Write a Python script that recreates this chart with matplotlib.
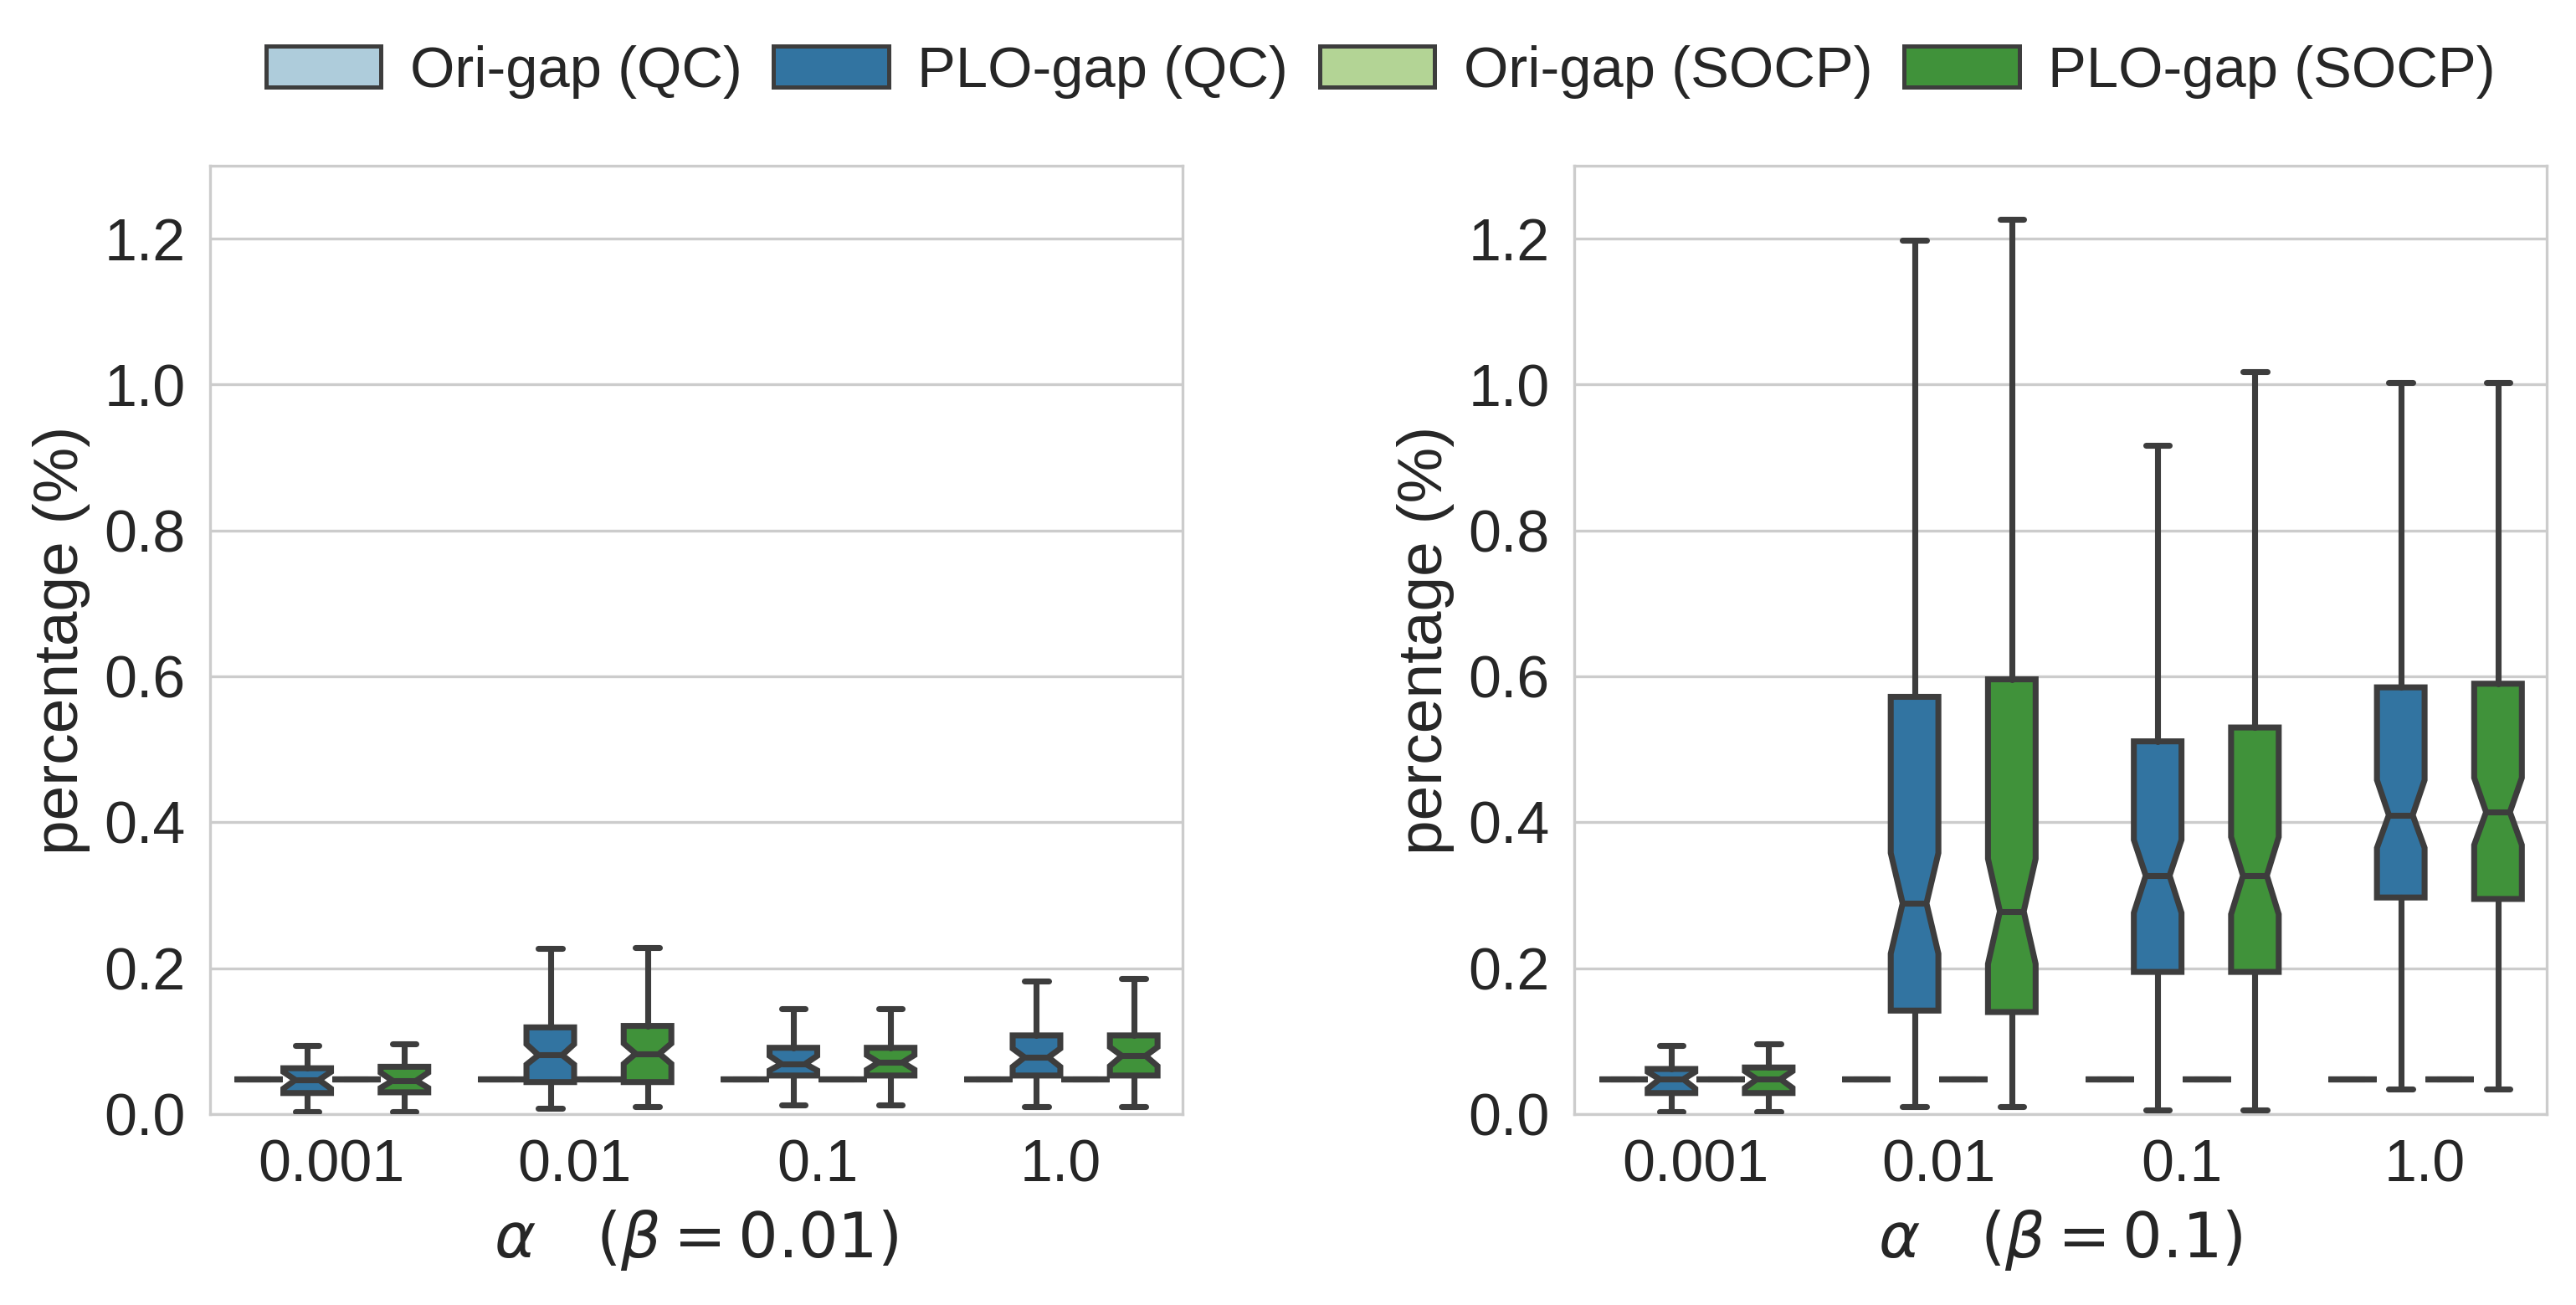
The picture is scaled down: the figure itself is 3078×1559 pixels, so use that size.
import numpy as np
import seaborn as sns
import matplotlib.pyplot as plt
from matplotlib.patches import Patch

sns.set_style('whitegrid')
plt.rcParams['font.family'] = ['Liberation Sans', 'DejaVu Sans']

# data
alphas = ['0.001', '0.01', '0.1', '1.0']
series = ['Ori-gap (QC)', 'PLO-gap (QC)', 'Ori-gap (SOCP)', 'PLO-gap (SOCP)']
ori_gap = [0.048, 0.048, 0.048, 0.048]

# rows: alpha, cols: whislo, q1, cilo, med, cihi, q3, whishi
plo_qc_b001 = [
    [0.003, 0.029, 0.035, 0.047, 0.058, 0.063, 0.094],
    [0.008, 0.044, 0.068, 0.081, 0.096, 0.119, 0.227],
    [0.013, 0.053, 0.060, 0.069, 0.080, 0.091, 0.145],
    [0.010, 0.053, 0.065, 0.078, 0.090, 0.108, 0.182],
]
plo_socp_b001 = [
    [0.003, 0.030, 0.036, 0.046, 0.057, 0.065, 0.097],
    [0.010, 0.044, 0.069, 0.083, 0.097, 0.121, 0.228],
    [0.013, 0.053, 0.061, 0.071, 0.081, 0.091, 0.145],
    [0.010, 0.053, 0.066, 0.080, 0.092, 0.108, 0.186],
]
plo_qc_b01 = [
    [0.003, 0.029, 0.035, 0.048, 0.058, 0.062, 0.094],
    [0.010, 0.142, 0.220, 0.289, 0.358, 0.572, 1.198],
    [0.006, 0.195, 0.276, 0.327, 0.376, 0.511, 0.917],
    [0.034, 0.297, 0.365, 0.410, 0.458, 0.585, 1.003],
]
plo_socp_b01 = [
    [0.003, 0.029, 0.036, 0.048, 0.059, 0.064, 0.097],
    [0.010, 0.140, 0.206, 0.278, 0.350, 0.596, 1.226],
    [0.006, 0.195, 0.274, 0.327, 0.380, 0.530, 1.018],
    [0.034, 0.295, 0.369, 0.414, 0.461, 0.590, 1.003],
]

colors = [sns.desaturate(c, 0.75) for c in sns.color_palette('Paired', 4)]
gray = '#3d3d3d'
lw = 1.7


def to_stats(rows):
    keys = ['whislo', 'q1', 'cilo', 'med', 'cihi', 'q3', 'whishi']
    out = []
    for r in rows:
        d = dict(zip(keys, r))
        d['fliers'] = []
        out.append(d)
    return out


def flat_stats(vals):
    return to_stats([[v] * 7 for v in vals])


def draw(ax, qc, socp, xlabel):
    groups = [flat_stats(ori_gap), to_stats(qc), flat_stats(ori_gap), to_stats(socp)]
    offsets = [-0.3, -0.1, 0.1, 0.3]
    for j in range(4):
        pos = np.arange(len(alphas)) + offsets[j]
        ax.bxp(groups[j], positions=pos, widths=0.196, capwidths=0.098,
               patch_artist=True, shownotches=True, showfliers=False,
               boxprops=dict(facecolor=colors[j], edgecolor=gray, linewidth=lw),
               whiskerprops=dict(color=gray, linewidth=lw),
               capprops=dict(color=gray, linewidth=lw, solid_capstyle='round'),
               medianprops=dict(color=gray, linewidth=lw), zorder=3)
    ax.set_xlim(-0.5, 3.5)
    ax.set_ylim(0, 1.3)
    ax.set_xticks(range(len(alphas)))
    ax.set_xticklabels(alphas)
    ax.set_yticks(np.arange(0, 1.21, 0.2))
    ax.xaxis.grid(False)
    ax.tick_params(labelsize=16.8)
    ax.set_xlabel(xlabel, fontsize=18)
    ax.set_ylabel('percentage (%)', fontsize=18)


fig = plt.figure(figsize=(10.26, 5.197), dpi=300)
fig.subplots_adjust(left=0.0815, right=0.9886, bottom=0.1462, top=0.873, wspace=0.403)
ax1 = fig.add_subplot(121)
ax2 = fig.add_subplot(122)
draw(ax1, plo_qc_b001, plo_socp_b001, r'$\alpha\quad(\beta=0.01)$')
draw(ax2, plo_qc_b01, plo_socp_b01, r'$\alpha\quad(\beta=0.1)$')

handles = [Patch(facecolor=colors[j], edgecolor=gray, linewidth=1.2, label=series[j]) for j in range(4)]
fig.legend(handles=handles, loc='center', bbox_to_anchor=(0.536, 0.945), ncol=4, frameon=False,
           fontsize=16.5, handlelength=2.0, handleheight=0.73, handletextpad=0.5, columnspacing=0.55)

fig.savefig('out.png', dpi=300)
